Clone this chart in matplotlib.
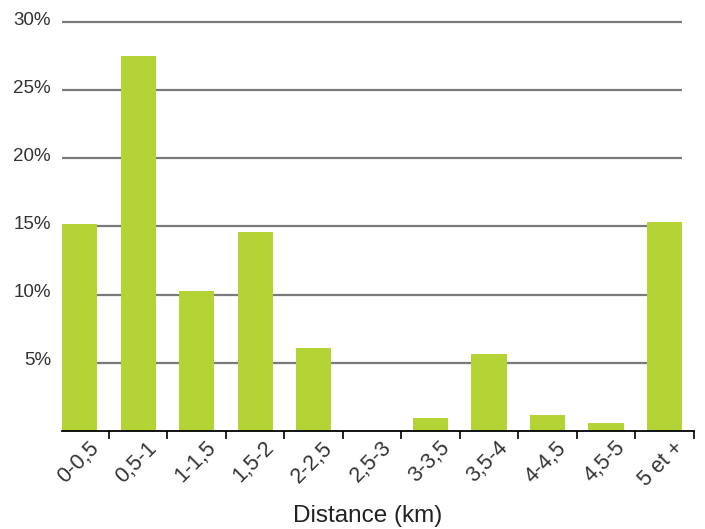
import numpy as np
import matplotlib.pyplot as plt
import matplotlib.transforms as mtransforms

# Répartition des trajets par tranche de distance (en %)
tranches = ["0-0,5", "0,5-1", "1-1,5", "1,5-2", "2-2,5", "2,5-3",
            "3-3,5", "3,5-4", "4-4,5", "4,5-5", "5 et +"]
parts = [15.2, 27.5, 10.3, 14.6, 6.1, 0.0, 0.95, 5.65, 1.15, 0.6, 15.3]
graduations = [5, 10, 15, 20, 25, 30]

vert = "#b4d335"
gris_texte = "#333333"

plt.rcParams['font.family'] = ['Liberation Sans', 'DejaVu Sans']

fig = plt.figure(figsize=(7.05, 5.29), dpi=100)
ax = fig.add_axes([0.088, 0.1853, 0.896, 0.7731])

x = np.arange(len(tranches))
largeur = 0.6

# Lignes de grille horizontales derrière les barres
ax.hlines(graduations, -largeur / 2, x[-1] + largeur / 2,
          color="#7a7a7a", lw=1.6, zorder=0, clip_on=False)

ax.bar(x, parts, width=largeur, color=vert, zorder=2)

ax.set_xlim(-largeur / 2, x[-1] + 0.5)
ax.set_ylim(0, 30)

for side in ["top", "right", "left"]:
    ax.spines[side].set_visible(False)
ax.spines["bottom"].set_color("black")
ax.spines["bottom"].set_linewidth(1.3)
ax.spines["bottom"].set_zorder(3)

# Axe des abscisses : étiquettes au centre, petits traits entre les tranches
ax.set_xticks(x)
ax.set_xticklabels(tranches, rotation=45, ha="right", va="center",
                   rotation_mode="anchor", fontsize=15.5, color=gris_texte)
ax.tick_params(axis="x", which="major", length=0, pad=10)
ax.set_xticks(x + 0.5, minor=True)
ax.tick_params(axis="x", which="minor", length=6, width=1.2, color="black")
decalage = mtransforms.ScaledTranslation(16 / 100, 0, fig.dpi_scale_trans)
for lab in ax.get_xticklabels():
    lab.set_transform(lab.get_transform() + decalage)

# Axe des ordonnées : pourcentages au-dessus des lignes
ax.set_yticks(graduations)
ax.set_yticklabels([f"{g}%" for g in graduations], fontsize=13.5, color=gris_texte)
ax.tick_params(axis="y", length=0, pad=8)
monte = mtransforms.ScaledTranslation(0, 4 / 100, fig.dpi_scale_trans)
for lab in ax.get_yticklabels():
    lab.set_transform(lab.get_transform() + monte)

# Titre de l'axe des abscisses, sous les étiquettes inclinées
fig.text(0.521, 0.004, "Distance (km)", fontsize=17.5, color="#222222",
         ha="center", va="bottom")

fig.savefig("out.png", dpi=100)
